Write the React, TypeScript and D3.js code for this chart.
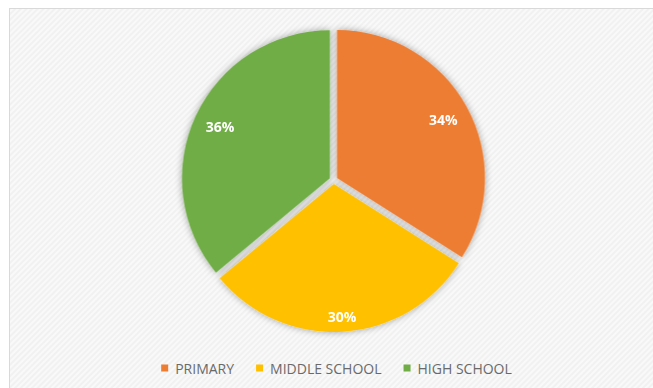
import React, { useEffect, useRef } from "react";
import * as d3 from "d3";

const categories = ["PRIMARY", "MIDDLE SCHOOL", "HIGH SCHOOL"];
const values = [34, 30, 36];
const colors = ["#ED7D31", "#FFC000", "#70AD47"];

const W = 653;
const H = 388;
const CX = 333.5;
const CY = 180;
const R = 148;
const EXPLODE = 4;
const LABEL_FACTORS = [0.82, 0.9, 0.82];

export default function App() {
  const ref = useRef<SVGSVGElement>(null);

  useEffect(() => {
    const svg = d3.select(ref.current);
    svg.selectAll("*").remove();

    const defs = svg.append("defs");
    const pat = defs
      .append("pattern")
      .attr("id", "hatch")
      .attr("width", 4)
      .attr("height", 4)
      .attr("patternUnits", "userSpaceOnUse")
      .attr("patternTransform", "rotate(45)");
    pat.append("rect").attr("width", 4).attr("height", 4).attr("fill", "#f9f9f9");
    pat.append("rect").attr("width", 2).attr("height", 4).attr("fill", "#f1f1f1");

    const filt = defs
      .append("filter")
      .attr("id", "shadow")
      .attr("x", "-20%")
      .attr("y", "-20%")
      .attr("width", "140%")
      .attr("height", "140%");
    filt
      .append("feDropShadow")
      .attr("dx", 0)
      .attr("dy", 0)
      .attr("stdDeviation", 3.5)
      .attr("flood-color", "#000")
      .attr("flood-opacity", 0.35);

    svg.append("rect").attr("width", W).attr("height", H).attr("fill", "#ffffff");
    svg
      .append("rect")
      .attr("x", 9.5)
      .attr("y", 8.5)
      .attr("width", W)
      .attr("height", H)
      .attr("fill", "url(#hatch)")
      .attr("stroke", "#d9d9d9")
      .attr("stroke-width", 1);

    const pie = d3
      .pie<number>()
      .sort(null)
      .value((d) => d);
    const arcs = pie(values);
    const arc = d3.arc<d3.PieArcDatum<number>>().innerRadius(0).outerRadius(R);

    const g = svg.append("g").attr("transform", `translate(${CX},${CY})`);
    const slices = g.append("g").attr("filter", "url(#shadow)");

    arcs.forEach((a, i) => {
      const mid = (a.startAngle + a.endAngle) / 2;
      const ox = EXPLODE * Math.sin(mid);
      const oy = -EXPLODE * Math.cos(mid);
      slices
        .append("path")
        .attr("d", arc(a) as string)
        .attr("transform", `translate(${ox},${oy})`)
        .attr("fill", colors[i]);
    });

    arcs.forEach((a, i) => {
      const mid = (a.startAngle + a.endAngle) / 2;
      const lr = R * LABEL_FACTORS[i] + EXPLODE;
      const x = lr * Math.sin(mid);
      const y = -lr * Math.cos(mid);
      g.append("text")
        .attr("x", x)
        .attr("y", y)
        .attr("text-anchor", "middle")
        .attr("dominant-baseline", "central")
        .attr("fill", "#ffffff")
        .attr("font-family", "'Open Sans', sans-serif")
        .attr("font-weight", "bold")
        .attr("font-size", 14)
        .text(`${values[i]}%`);
    });

    // legend
    const legend = svg.append("g");
    const items = categories.map((c, i) => {
      const it = legend.append("g");
      it.append("rect")
        .attr("width", 7)
        .attr("height", 7)
        .attr("y", -3.5)
        .attr("fill", colors[i]);
      const t = it
        .append("text")
        .attr("x", 14)
        .attr("y", 0)
        .attr("dominant-baseline", "central")
        .attr("fill", "#6a6a6a")
        .attr("font-family", "'Open Sans', sans-serif")
        .attr("font-size", 14)
        .text(c);
      const w = (t.node() as SVGTextElement).getComputedTextLength();
      return { it, w: 14 + w };
    });
    const gap = 22;
    const total = items.reduce((s, d) => s + d.w, 0) + gap * (items.length - 1);
    let x = 336.5 - total / 2;
    items.forEach((d) => {
      d.it.attr("transform", `translate(${x},368)`);
      x += d.w + gap;
    });
  }, []);

  return (
    <svg
      ref={ref}
      width={W}
      height={H}
      style={{ position: "absolute", left: 0, top: 0 }}
    />
  );
}
